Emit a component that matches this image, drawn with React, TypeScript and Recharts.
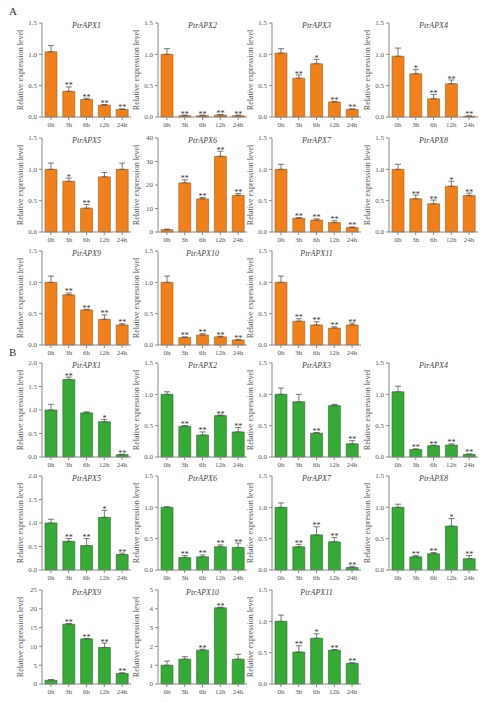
import React from "react";
import { BarChart, Bar, XAxis, YAxis, ErrorBar, LabelList } from "recharts";

const times = ["0h", "3h", "6h", "12h", "24h"];

const genes = [
  "PtrAPX1", "PtrAPX2", "PtrAPX3", "PtrAPX4", "PtrAPX5", "PtrAPX6",
  "PtrAPX7", "PtrAPX8", "PtrAPX9", "PtrAPX10", "PtrAPX11",
];

// panel A (orange)
const valuesA = [
  [1.04, 0.41, 0.28, 0.19, 0.12],
  [1.0, 0.02, 0.02, 0.03, 0.02],
  [1.02, 0.62, 0.85, 0.24, 0.12],
  [0.97, 0.69, 0.29, 0.53, 0.01],
  [1.0, 0.81, 0.38, 0.88, 1.0],
  [1.0, 20.9, 14.1, 32.2, 15.6],
  [1.0, 0.22, 0.19, 0.15, 0.07],
  [1.0, 0.53, 0.45, 0.73, 0.58],
  [1.0, 0.8, 0.56, 0.41, 0.32],
  [1.0, 0.12, 0.16, 0.13, 0.08],
  [1.0, 0.38, 0.32, 0.27, 0.32],
];
const errorsA = [
  [0.1, 0.07, 0.02, 0.01, 0.01],
  [0.09, 0.01, 0.01, 0.01, 0.01],
  [0.07, 0.05, 0.07, 0.01, 0.01],
  [0.13, 0.07, 0.07, 0.06, 0.01],
  [0.1, 0.05, 0.06, 0.07, 0.1],
  [0.2, 1.3, 0.6, 2.2, 0.8],
  [0.08, 0.01, 0.02, 0.03, 0.01],
  [0.08, 0.06, 0.06, 0.08, 0.04],
  [0.1, 0.03, 0.01, 0.07, 0.02],
  [0.1, 0.01, 0.02, 0.01, 0.01],
  [0.1, 0.04, 0.05, 0.02, 0.03],
];
const starsA = [
  ["", "**", "**", "**", "**"],
  ["", "**", "**", "**", "**"],
  ["", "**", "*", "**", "**"],
  ["", "*", "**", "**", "**"],
  ["", "*", "**", "", ""],
  ["", "**", "**", "**", "**"],
  ["", "**", "**", "**", "**"],
  ["", "**", "**", "*", "**"],
  ["", "**", "**", "**", "**"],
  ["", "**", "**", "**", "**"],
  ["", "**", "**", "**", "**"],
];

// panel B (green)
const valuesB = [
  [1.0, 1.65, 0.94, 0.75, 0.05],
  [1.0, 0.49, 0.35, 0.66, 0.4],
  [1.0, 0.88, 0.38, 0.82, 0.21],
  [1.04, 0.12, 0.18, 0.19, 0.04],
  [1.0, 0.61, 0.52, 1.12, 0.33],
  [1.0, 0.2, 0.21, 0.37, 0.36],
  [1.0, 0.37, 0.56, 0.45, 0.04],
  [1.0, 0.21, 0.26, 0.7, 0.18],
  [1.0, 15.9, 12.0, 9.7, 2.8],
  [1.0, 1.32, 1.8, 4.05, 1.32],
  [1.0, 0.51, 0.73, 0.54, 0.33],
];
const errorsB = [
  [0.12, 0.05, 0.02, 0.05, 0.01],
  [0.04, 0.01, 0.05, 0.01, 0.07],
  [0.1, 0.12, 0.01, 0.02, 0.05],
  [0.09, 0.01, 0.01, 0.02, 0.01],
  [0.08, 0.06, 0.15, 0.15, 0.03],
  [0.01, 0.03, 0.03, 0.03, 0.07],
  [0.07, 0.04, 0.13, 0.07, 0.02],
  [0.05, 0.02, 0.02, 0.12, 0.05],
  [0.2, 0.2, 0.1, 1.2, 0.2],
  [0.22, 0.13, 0.05, 0.03, 0.26],
  [0.1, 0.1, 0.07, 0.01, 0.01],
];
const starsB = [
  ["", "**", "", "*", "**"],
  ["", "**", "**", "**", "**"],
  ["", "", "**", "", "**"],
  ["", "**", "**", "**", "**"],
  ["", "**", "**", "*", "**"],
  ["", "**", "**", "**", "**"],
  ["", "**", "**", "**", "**"],
  ["", "**", "**", "*", "**"],
  ["", "**", "**", "**", "**"],
  ["", "", "**", "**", ""],
  ["", "**", "*", "**", "**"],
];

const TICKS_15 = [0, 0.5, 1.0, 1.5];
const TICKS_20 = [0, 0.5, 1.0, 1.5, 2.0];
const TICKS_40 = [0, 10, 20, 30, 40];
const TICKS_25 = [0, 5, 10, 15, 20, 25];
const TICKS_5 = [0, 1, 2, 3, 4, 5];

const ticksA = [TICKS_15, TICKS_15, TICKS_15, TICKS_15, TICKS_15, TICKS_40, TICKS_15, TICKS_15, TICKS_15, TICKS_15, TICKS_15];
const ticksB = [TICKS_20, TICKS_15, TICKS_15, TICKS_15, TICKS_20, TICKS_15, TICKS_15, TICKS_15, TICKS_25, TICKS_5, TICKS_15];

const colX = [42, 158, 272, 389];
const rowTop = [23, 138, 251, 363, 476, 590];
const PLOT_W = 89;
const PLOT_H = 94;
const AXIS_W = 34;

const serif = "'Liberation Serif', 'Times New Roman', serif";
const grey = "#555";

function Panel({ gene, values, errs, stars, ticks, fill, stroke, row, col }) {
  const data = times.map((t, i) => ({
    t,
    v: values[i],
    e: errs[i],
    eb: [0, errs[i]],
    sig: stars[i],
  }));
  const max = ticks[ticks.length - 1];
  const oneDec = max <= 2;
  const left = colX[col];
  const top = rowTop[row];

  const renderStar = (props) => {
    const { x, y, width, height, index, value } = props;
    if (!value) return null;
    const d = data[index];
    const per = d.v > 0 ? Number(height) / d.v : 0;
    const capY = Number(y) - d.e * per;
    return (
      <text
        x={Number(x) + Number(width) / 2}
        y={capY + 1.5}
        textAnchor="middle"
        fontSize={8}
        fill="#333"
        fontFamily={serif}
      >
        {value}
      </text>
    );
  };

  return (
    <>
      <div style={{ position: "absolute", left: left - AXIS_W, top: top - 6 }}>
        <BarChart
          width={AXIS_W + PLOT_W + 3}
          height={6 + PLOT_H + 16}
          data={data}
          margin={{ top: 6, right: 3, left: 0, bottom: 0 }}
          barSize={12}
        >
          <XAxis
            dataKey="t"
            interval={0}
            height={16}
            tickSize={3}
            tickMargin={2}
            tick={{ fontSize: 7, fill: grey, fontFamily: serif }}
            axisLine={{ stroke: "#888" }}
            tickLine={{ stroke: "#888" }}
          />
          <YAxis
            width={AXIS_W}
            type="number"
            domain={[0, max]}
            ticks={ticks}
            interval={0}
            tickSize={3}
            tickMargin={2}
            tickFormatter={(v) => (oneDec ? v.toFixed(1) : String(v))}
            tick={{ fontSize: 7, fill: grey, fontFamily: serif }}
            axisLine={{ stroke: "#888" }}
            tickLine={{ stroke: "#888" }}
            label={{
              value: "Relative expression level",
              angle: -90,
              position: "insideLeft",
              offset: 12,
              style: { textAnchor: "middle", fontSize: 8, fill: grey, fontFamily: serif },
            }}
          />
          <Bar dataKey="v" fill={fill} stroke={stroke} strokeWidth={0.6} isAnimationActive={false}>
            <ErrorBar dataKey="eb" width={3} stroke="#555" strokeWidth={0.8} isAnimationActive={false} />
            <LabelList dataKey="sig" content={renderStar} />
          </Bar>
        </BarChart>
      </div>
      <div
        style={{
          position: "absolute",
          left,
          top: top - 1.5,
          width: PLOT_W,
          textAlign: "center",
          fontFamily: serif,
          fontStyle: "italic",
          fontSize: 8,
          lineHeight: "8px",
          color: "#444",
        }}
      >
        {gene}
      </div>
    </>
  );
}

export default function App() {
  return (
    <div
      style={{
        position: "absolute",
        left: 0,
        top: 0,
        width: 487,
        height: 703,
        background: "#fff",
        fontFamily: serif,
      }}
    >
      <div style={{ position: "absolute", left: 9, top: 5, fontSize: 11, color: "#333" }}>A</div>
      <div style={{ position: "absolute", left: 9, top: 346, fontSize: 11, color: "#333" }}>B</div>
      {genes.map((g, i) => (
        <Panel
          key={"A" + g}
          gene={g}
          values={valuesA[i]}
          errs={errorsA[i]}
          stars={starsA[i]}
          ticks={ticksA[i]}
          fill="#EF801C"
          stroke="#A85A14"
          row={Math.floor(i / 4)}
          col={i % 4}
        />
      ))}
      {genes.map((g, i) => (
        <Panel
          key={"B" + g}
          gene={g}
          values={valuesB[i]}
          errs={errorsB[i]}
          stars={starsB[i]}
          ticks={ticksB[i]}
          fill="#37A937"
          stroke="#22702A"
          row={3 + Math.floor(i / 4)}
          col={i % 4}
        />
      ))}
    </div>
  );
}
